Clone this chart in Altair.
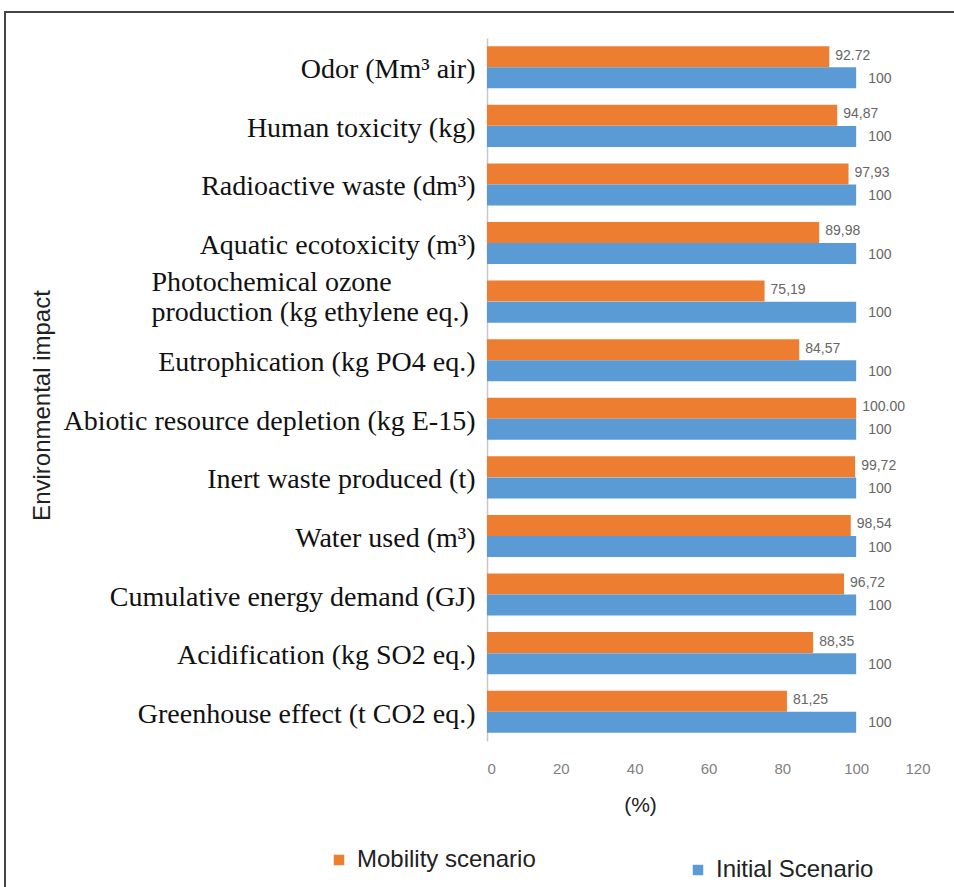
import altair as alt
import pandas as pd

# Impact categories, top to bottom ("|" marks a line break)
categories = [
    "Odor (Mm³ air)",
    "Human toxicity (kg)",
    "Radioactive waste  (dm³)",
    "Aquatic ecotoxicity  (m³)",
    "Photochemical ozone|production (kg ethylene eq.)",
    "Eutrophication (kg PO4 eq.)",
    "Abiotic resource depletion (kg E-15)",
    "Inert waste produced (t)",
    "Water used (m³)",
    "Cumulative energy  demand (GJ)",
    "Acidification  (kg SO2 eq.)",
    "Greenhouse effect (t CO2 eq.)",
]

# Relative impact (%) of each scenario
mobility = [92.72, 94.87, 97.93, 89.98, 75.19, 84.57, 100.00, 99.72, 98.54, 96.72, 88.35, 81.25]
initial = [100] * 12

mobility_labels = ["92.72", "94,87", "97,93", "89,98", "75,19", "84,57",
                   "100.00", "99,72", "98,54", "96,72", "88,35", "81,25"]
initial_labels = ["100"] * 12

series_names = ["Mobility scenario", "Initial Scenario"]
series_colors = ["#ED7D31", "#5B9BD5"]
x_ticks = [0, 20, 40, 60, 80, 100, 120]

rows = []
for i, c in enumerate(categories):
    rows.append({"cat": c, "series": series_names[0], "value": mobility[i], "label": mobility_labels[i]})
    rows.append({"cat": c, "series": series_names[1], "value": initial[i], "label": initial_labels[i]})
df = pd.DataFrame(rows)

W, H = 443, 703

# The two-line label is left-aligned as a block; the others sit flush right
two_line_test = "indexof(datum.value, '|') >= 0"

y_enc = alt.Y(
    "cat:N",
    sort=categories,
    scale=alt.Scale(paddingInner=0.28, paddingOuter=0.14),
    axis=alt.Axis(
        title="Environmental impact",
        titleFont="Liberation Sans",
        titleFontSize=24,
        titleFontWeight="normal",
        titleColor="#222222",
        titleX=-445,
        titleY=367,
        titleAngle=-90,
        titleAlign="center",
        titleBaseline="middle",
        labelFont="Liberation Serif",
        labelFontSize=28,
        labelColor="#111111",
        labelPadding={"condition": {"test": two_line_test, "value": 336}, "value": 12},
        labelAlign={"condition": {"test": two_line_test, "value": "left"}, "value": "right"},
        labelLimit=500,
        labelLineHeight=30,
        labelOffset={"condition": {"test": two_line_test, "value": -19}, "value": 3},
        labelExpr="split(datum.label, '|')",
        ticks=False,
        domain=True,
        domainColor="#c8c8c8",
        domainWidth=1.5,
        grid=False,
    ),
)

x_enc = alt.X(
    "value:Q",
    scale=alt.Scale(domain=[0, 120], nice=False),
    axis=alt.Axis(
        values=x_ticks,
        title="(%)",
        titleFont="Liberation Sans",
        titleFontSize=21,
        titleFontWeight="normal",
        titleColor="#222222",
        titleX=153,
        titleY=64,
        titleAlign="center",
        titleBaseline="middle",
        labelFont="Liberation Sans",
        labelFontSize=15,
        labelColor="#7f7f7f",
        labelPadding=20,
        ticks=False,
        domain=False,
        grid=False,
    ),
)

y_off = alt.YOffset("series:N", sort=series_names, scale=alt.Scale(domain=series_names))


def legend_at(lx, ly):
    return alt.Legend(
        title=None,
        orient="none",
        legendX=lx,
        legendY=ly,
        symbolType="square",
        symbolSize=110,
        symbolStrokeWidth=0,
        labelFont="Liberation Sans",
        labelFontSize=24,
        labelColor="#222222",
        labelLimit=300,
        labelOffset=6,
    )


base = alt.Chart(df)

mob_bars = base.transform_filter(alt.datum.series == series_names[0]).mark_bar(size=21).encode(
    y=y_enc,
    x=x_enc,
    yOffset=y_off,
    color=alt.Color(
        "series:N",
        scale=alt.Scale(domain=[series_names[0]], range=[series_colors[0]]),
        legend=legend_at(-160, 810),
    ),
)

ini_bars = base.transform_filter(alt.datum.series == series_names[1]).mark_bar(size=21).encode(
    y=y_enc,
    x=x_enc,
    yOffset=y_off,
    color=alt.Color(
        "series:N",
        scale=alt.Scale(domain=[series_names[1]], range=[series_colors[1]]),
        legend=legend_at(199, 820),
    ),
)

label_orange = base.transform_filter(alt.datum.series == series_names[0]).mark_text(
    align="left", baseline="middle", dx=6, dy=-1,
    font="Liberation Sans", fontSize=14, color="#666666",
).encode(
    y=alt.Y("cat:N", sort=categories),
    x="value:Q",
    yOffset=y_off,
    text="label:N",
)

label_blue = base.transform_filter(alt.datum.series == series_names[1]).mark_text(
    align="left", baseline="middle", dx=12, dy=1,
    font="Liberation Sans", fontSize=14, color="#666666",
).encode(
    y=alt.Y("cat:N", sort=categories),
    x="value:Q",
    yOffset=y_off,
    text="label:N",
)

# Outer frame around the whole figure
frame = alt.Chart(pd.DataFrame({"k": [0]})).mark_rect(
    filled=False, stroke="#444444", strokeWidth=2, clip=False
).encode(
    x=alt.value(-482), x2=alt.value(490),
    y=alt.value(-26), y2=alt.value(880),
)

chart = alt.layer(frame, mob_bars, ini_bars, label_orange, label_blue).resolve_scale(
    color="independent"
).properties(
    width=W,
    height=H,
    autosize=alt.AutoSizeParams(type="none"),
    padding={"left": 487, "top": 38, "right": 24, "bottom": 146},
    background="white",
).configure_view(stroke=None)

chart.save("out.html", embed_options={"renderer": "svg", "actions": False})
